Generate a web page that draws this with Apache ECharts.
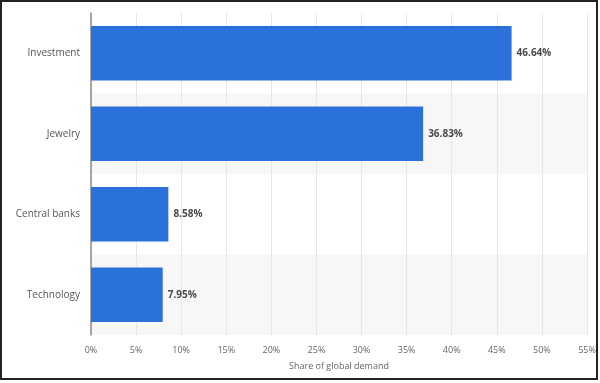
<!DOCTYPE html>
<html><head><meta charset="utf-8">
<script src="https://cdn.jsdelivr.net/npm/echarts@6/dist/echarts.min.js"></script>
<style>html,body{margin:0;padding:0;background:#fff}#c{width:600px;height:383px}</style>
</head><body><div id="c"></div>
<script>
const categories = ['Investment', 'Jewelry', 'Central banks', 'Technology'];
const values = [46.64, 36.83, 8.58, 7.95];
const xTicks = [0, 5, 10, 15, 20, 25, 30, 35, 40, 45, 50, 55];
const axisTitle = 'Share of global demand';

const chart = echarts.init(document.getElementById('c'), null, {renderer: 'canvas'});
chart.setOption({
  animation: false,
  textStyle: {fontFamily: 'Open Sans'},
  grid: {left: 91, right: 13, top: 13, bottom: 48},
  xAxis: {
    type: 'value', min: xTicks[0], max: xTicks[xTicks.length - 1], interval: 5,
    name: axisTitle, nameLocation: 'middle', nameGap: 27,
    nameTextStyle: {fontSize: 9, color: '#666'},
    axisLine: {show: false}, axisTick: {show: false},
    axisLabel: {fontSize: 9, color: '#666', margin: 11, formatter: v => v + '%'},
    splitLine: {show: true, lineStyle: {color: '#e6e6e6', width: 1}}
  },
  yAxis: {
    type: 'category', data: categories, inverse: true,
    axisLine: {show: true, lineStyle: {color: '#8a8a8a', width: 1.5}},
    axisTick: {show: false},
    axisLabel: {fontSize: 10, color: '#555', margin: 11},
    splitArea: {show: true, areaStyle: {color: ['#ffffff', '#f7f7f7']}}
  },
  series: [{
    type: 'bar', data: values, barCategoryGap: '32%',
    itemStyle: {color: '#2a72d9'},
    label: {show: true, position: 'right', distance: 5, fontSize: 10, fontWeight: 'bold', color: '#4a4a4a',
      formatter: p => p.value.toFixed(2) + '%'}
  }],
  graphic: [{
    type: 'rect', silent: true, z: 100,
    shape: {x: 1, y: 1, width: 596, height: 378},
    style: {fill: 'none', stroke: '#222', lineWidth: 2}
  }]
});
</script></body></html>
